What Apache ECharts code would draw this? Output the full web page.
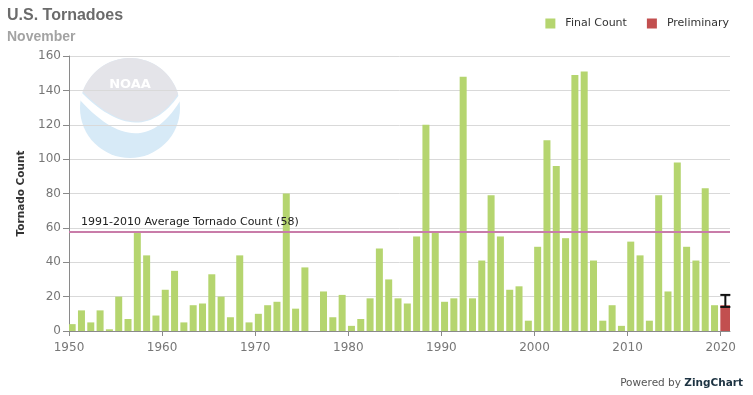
<!DOCTYPE html>
<html>
<head>
<meta charset="utf-8">
<script src="https://cdn.jsdelivr.net/npm/echarts@6/dist/echarts.min.js"></script>
<style>
html,body{margin:0;padding:0;background:#fff;}
#chart{width:753px;height:395px;}
</style>
</head>
<body>
<div id="chart"></div>
<script>
// ---- data ----
const years = [];
for (let y = 1950; y <= 2020; y++) years.push(String(y));

const finalCount = [
  4, 12, 5, 12, 1, 20, 7, 57, 44, 9,
  24, 35, 5, 15, 16, 33, 20, 8, 44, 5,
  10, 15, 17, 80, 13, 37, 0, 23, 8, 21,
  3, 7, 19, 48, 30, 19, 16, 55, 120, 57,
  17, 19, 148, 19, 41, 79, 55, 24, 26, 6,
  49, 111, 96, 54, 149, 151, 41, 6, 15, 3,
  52, 44, 6, 79, 23, 98, 49, 41, 83, 15,
  null
];
const preliminaryYear = '2020';
const preliminaryValue = 15;
const preliminaryLow = 14;
const preliminaryHigh = 21;
const averageValue = 58;
const averageLabel = '1991-2010 Average Tornado Count (' + averageValue + ')';

const preliminary = years.map(y => (y === preliminaryYear ? preliminaryValue : null));
const errorData = [[years.indexOf(preliminaryYear), preliminaryLow, preliminaryHigh]];

// ---- decorative watermark geometry (logo) ----
const LCX = 130, LCY = 108, LR = 50;
function arcPts(a0, a1, n) {
  const p = [];
  for (let i = 0; i <= n; i++) {
    const a = a0 + (a1 - a0) * i / n;
    p.push([LCX + LR * Math.cos(a), LCY + LR * Math.sin(a)]);
  }
  return p;
}
function quadPts(p0, c, p2, n) {
  const p = [];
  for (let i = 0; i <= n; i++) {
    const t = i / n, u = 1 - t;
    p.push([u * u * p0[0] + 2 * u * t * c[0] + t * t * p2[0],
            u * u * p0[1] + 2 * u * t * c[1] + t * t * p2[1]]);
  }
  return p;
}
const angL = Math.atan2(92 - LCY, 83 - LCX);
const angR = Math.atan2(94 - LCY, 178 - LCX);
const greyPoly = arcPts(angL, angR + 2 * Math.PI * (angR < angL ? 1 : 0), 40)
  .concat(quadPts([178, 94], [140, 150], [83, 92], 30));
const whitePoly = quadPts([82, 93], [140, 151], [179, 95], 30)
  .concat(quadPts([180, 101], [140, 166], [80, 100], 30));

const FONT = 'DejaVu Sans';
const chart = echarts.init(document.getElementById('chart'), null, {renderer: 'canvas'});

const option = {
  animation: false,
  backgroundColor: '#ffffff',
  title: [
    {text: 'U.S. Tornadoes', left: 2, top: 3,
     textStyle: {fontFamily: 'Liberation Sans', fontWeight: 'bold', fontSize: 16, color: '#6b6b6b'}},
    {text: 'November', left: 2, top: 25,
     textStyle: {fontFamily: 'Liberation Sans', fontWeight: 'bold', fontSize: 14, color: '#a3a3a3'}}
  ],
  legend: {
    data: ['Final Count', 'Preliminary'],
    right: 19, top: 13,
    icon: 'rect', itemWidth: 10, itemHeight: 10, itemGap: 20,
    textStyle: {fontFamily: FONT, fontSize: 11, color: '#333', padding: [0, 0, 0, 5]}
  },
  grid: {left: 69, right: 23, top: 56, bottom: 64, containLabel: false},
  xAxis: [
    {type: 'category', data: years, show: false, boundaryGap: true},
    {type: 'value', position: 'bottom', min: 1950, max: 2021, interval: 10,
     axisLine: {show: true, lineStyle: {color: '#8a8a8a', width: 1}},
     axisTick: {show: true, length: 5, lineStyle: {color: '#8a8a8a'}},
     axisLabel: {fontFamily: FONT, fontSize: 12, color: '#777', margin: 11,
                 formatter: v => String(v)},
     splitLine: {show: false}}
  ],
  yAxis: {
    type: 'value', min: 0, max: 160, interval: 20,
    name: 'Tornado Count', nameLocation: 'middle', nameGap: 38, nameRotate: 90,
    nameTextStyle: {fontFamily: FONT, fontWeight: 'bold', fontSize: 10.5, color: '#333'},
    axisLine: {show: true, lineStyle: {color: '#8a8a8a', width: 1}},
    axisTick: {show: true, length: 6, lineStyle: {color: '#8a8a8a'}},
    axisLabel: {fontFamily: FONT, fontSize: 12, color: '#777', margin: 8},
    splitLine: {show: true, lineStyle: {color: '#d9d9d9', width: 1}}
  },
  graphic: [
    {type: 'circle', z: -10, silent: true, shape: {cx: LCX, cy: LCY, r: LR}, style: {fill: '#d7eaf7'}},
    {type: 'polygon', z: -9, silent: true, shape: {points: greyPoly}, style: {fill: '#e4e4e9'}},
    {type: 'polygon', z: -8, silent: true, shape: {points: whitePoly}, style: {fill: '#ffffff'}},
    {type: 'text', z: -7, silent: true, x: 130, y: 78,
     style: {text: 'NOAA', fill: '#ffffff', font: 'bold 13px "DejaVu Sans"', textAlign: 'center'}},
    {type: 'text', right: 10, top: 378,
     style: {text: '{a|Powered by }{b|ZingChart}',
       rich: {a: {fontFamily: FONT, fontSize: 10.5, fill: '#555', color: '#555'},
              b: {fontFamily: FONT, fontSize: 10.5, fontWeight: 'bold', fill: '#1d3342', color: '#1d3342'}}}}
  ],
  series: [
    {
      name: 'Final Count', type: 'bar', xAxisIndex: 0, yAxisIndex: 0,
      data: finalCount, barWidth: 7, barGap: '-100%',
      itemStyle: {color: '#b5d56f'},
      markLine: {
        silent: true, symbol: 'none',
        data: [{yAxis: averageValue}],
        lineStyle: {color: '#c97ca9', width: 2, type: 'solid'},
        label: {show: true, position: 'insideStartTop', formatter: averageLabel,
                fontFamily: FONT, fontSize: 11, color: '#222', distance: [12, 4]},
        emphasis: {disabled: true}
      }
    },
    {
      name: 'Preliminary', type: 'bar', xAxisIndex: 0, yAxisIndex: 0,
      data: preliminary, barWidth: 10, barGap: '-100%',
      itemStyle: {color: '#c24f4f'}
    },
    {
      name: 'Range', type: 'custom', xAxisIndex: 0, yAxisIndex: 0, z: 5,
      data: errorData,
      renderItem: function (params, api) {
        const lo = api.coord([api.value(0), api.value(1)]);
        const hi = api.coord([api.value(0), api.value(2)]);
        const hw = 5;
        const st = {stroke: '#111', lineWidth: 2};
        return {type: 'group', children: [
          {type: 'line', shape: {x1: lo[0], y1: lo[1], x2: hi[0], y2: hi[1]}, style: st},
          {type: 'line', shape: {x1: lo[0] - hw, y1: lo[1], x2: lo[0] + hw, y2: lo[1]}, style: st},
          {type: 'line', shape: {x1: hi[0] - hw, y1: hi[1], x2: hi[0] + hw, y2: hi[1]}, style: st}
        ]};
      }
    }
  ]
};
chart.setOption(option);
</script>
</body>
</html>
